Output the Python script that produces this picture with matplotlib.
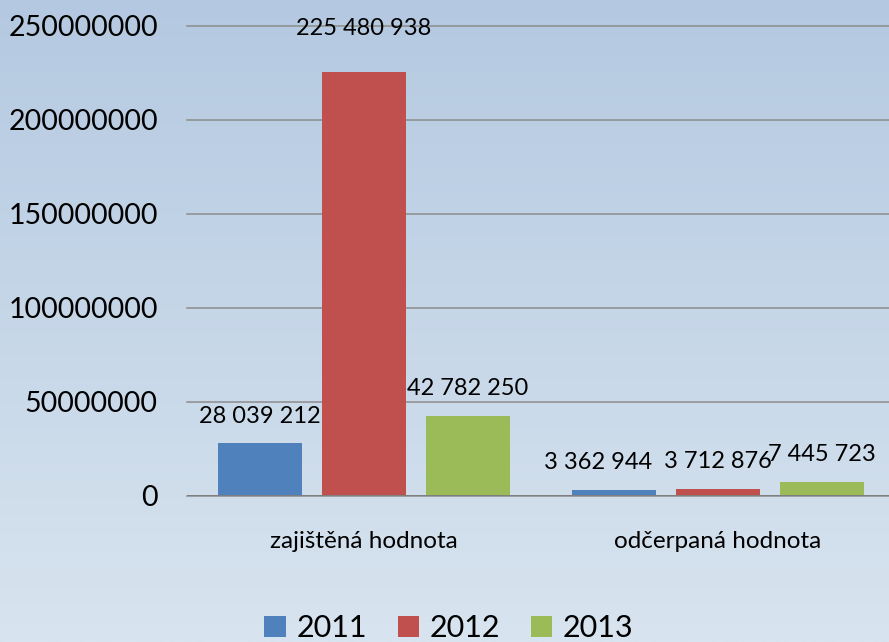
import numpy as np
import matplotlib.pyplot as plt
from matplotlib.colors import LinearSegmentedColormap

categories = ["zajištěná hodnota", "odčerpaná hodnota"]
years = ["2011", "2012", "2013"]
values_2011 = [28039212, 3362944]
values_2012 = [225480938, 3712876]
values_2013 = [42782250, 7445723]
yticks = [0, 50000000, 100000000, 150000000, 200000000, 250000000]

colors = ["#4f81bd", "#c0504d", "#9bbb59"]

plt.rcParams["font.family"] = ["Lato", "DejaVu Sans"]

fig = plt.figure(figsize=(8.89, 6.42), dpi=100)

# background gradient over the whole figure
bg = fig.add_axes([0, 0, 1, 1], zorder=-10)
grad = np.linspace(0, 1, 256).reshape(-1, 1)
cmap = LinearSegmentedColormap.from_list("bg", ["#b4c9e1", "#d8e4ef"])
bg.imshow(grad, aspect="auto", cmap=cmap, extent=[0, 1, 0, 1], origin="upper")
bg.axis("off")

ax = fig.add_axes([187 / 889, 146 / 642, 708 / 889, 470 / 642])
ax.patch.set_alpha(0)

x = np.arange(len(categories))
width = 0.237
step = 0.294
series = [values_2011, values_2012, values_2013]

# label nudges in pixels (dx, dy) per series/category
nudges = [[(0, 0), (-16, 0)], [(0, 17), (0, 0)], [(0, 0), (0, 0)]]

for i, (vals, col, yr) in enumerate(zip(series, colors, years)):
    pos = x + (i - 1) * step
    ax.bar(pos, vals, width, color=col, label=yr, zorder=3)
    for j, (p, v) in enumerate(zip(pos, vals)):
        dx, dy = nudges[i][j]
        lbl = f"{v:,}".replace(",", " ")
        ax.annotate(lbl, (p, v), xytext=(dx * 0.72, 19.5 + dy * 0.72),
                    textcoords="offset points", ha="center", va="center",
                    fontsize=17, color="black", zorder=4)

ax.set_xlim(-0.5, 1.5)
ax.set_ylim(0, 250000000)
ax.set_yticks(yticks)
ax.set_yticklabels([str(t) for t in yticks], fontsize=20.5)
ax.set_xticks(x)
ax.set_xticklabels(categories, fontsize=17.5)
ax.tick_params(axis="y", length=0, pad=21)
ax.tick_params(axis="x", length=0, pad=25)
ax.yaxis.grid(True, color="#8c8c8c", linewidth=1.1, zorder=0)
for gl in ax.get_ygridlines():
    gl.set_clip_on(False)
ax.set_axisbelow(True)
for s in ax.spines.values():
    s.set_visible(False)
ax.axhline(0, color="#7f7f7f", linewidth=1.4, zorder=5)

fig.legend(loc="center", bbox_to_anchor=(0.505, 14 / 642), ncol=3,
           frameon=False, fontsize=22, handlelength=0.7, handleheight=0.7,
           handletextpad=0.35, columnspacing=1.0)

fig.savefig("out.png", dpi=100)
